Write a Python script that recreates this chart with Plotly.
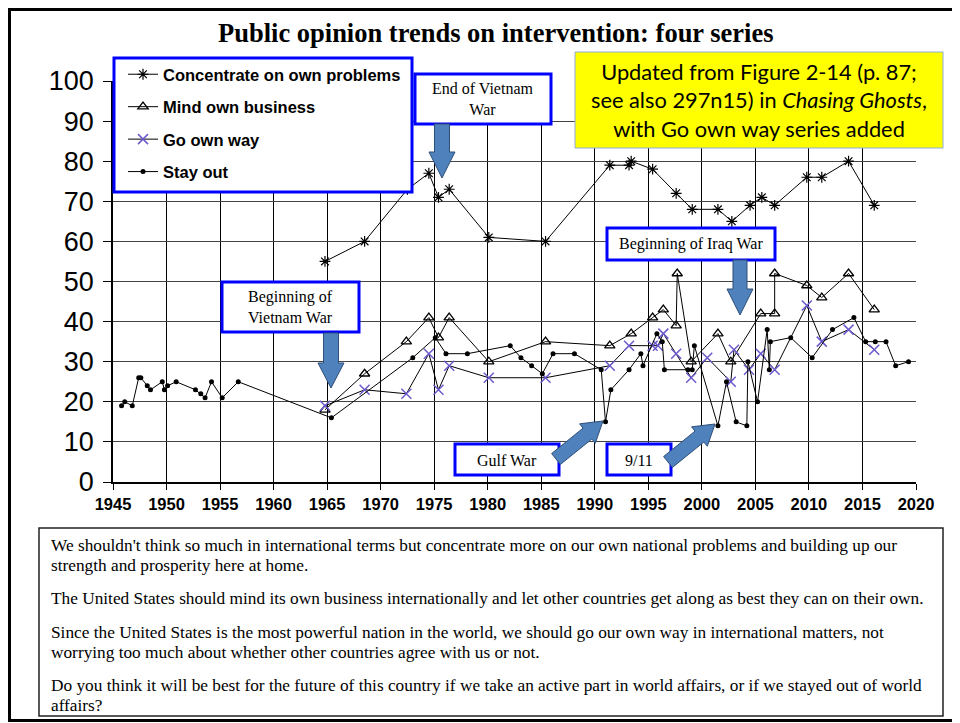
import math
import plotly.graph_objects as go

# ---------------- data ----------------
conc_years = [1964.8, 1968.5, 1972.5, 1974.5, 1975.4, 1976.4, 1980.1, 1985.4, 1991.4, 1993.2,
              1993.4, 1995.4, 1997.6, 1999.1, 2001.5, 2002.8, 2004.5, 2005.6, 2006.8, 2009.8,
              2011.2, 2013.7, 2016.1]
conc_vals = [55, 60, 73, 77, 71, 73, 61, 60, 79, 79,
             80, 78, 72, 68, 68, 65, 69, 71, 69, 76,
             76, 80, 69]

mind_years = [1964.8, 1968.5, 1972.4, 1974.5, 1975.4, 1976.4, 1980.1, 1985.4, 1991.4, 1993.4,
              1995.4, 1996.4, 1997.6, 1997.7, 1999.0, 2001.5, 2002.7, 2005.5, 2006.8, 2006.8,
              2009.8, 2011.2, 2013.7, 2016.1]
mind_vals = [18, 27, 35, 41, 36, 41, 30, 35, 34, 37,
             41, 43, 39, 52, 30, 37, 30, 42, 42, 52,
             49, 46, 52, 43]

go_years = [1964.8, 1968.5, 1972.4, 1974.5, 1975.4, 1976.4, 1980.1, 1985.4, 1991.4, 1993.2,
            1995.4, 1995.9, 1996.4, 1997.6, 1999.0, 2000.5, 2002.7, 2003.0, 2004.4, 2005.5,
            2006.8, 2009.8, 2011.2, 2013.7, 2016.1]
go_vals = [19, 23, 22, 32, 23, 29, 26, 26, 29, 34,
           34, 34, 37, 32, 26, 31, 25, 33, 28, 32,
           28, 44, 35, 38, 33]

stay_years = [1945.8, 1946.1, 1946.8, 1947.4, 1947.6, 1948.2, 1948.5, 1949.6, 1949.8, 1950.1,
              1950.9, 1952.7, 1953.2, 1953.6, 1954.2, 1955.2, 1956.7, 1965.4, 1973.0, 1975.1,
              1976.1, 1978.1, 1982.1, 1983.1, 1984.1, 1985.1, 1986.1, 1988.1, 1990.6, 1991.0,
              1991.5, 1993.2, 1994.3, 1994.5, 1995.8, 1996.3, 1996.5, 1998.7, 1999.1, 1999.3,
              2001.5, 2002.3, 2003.2, 2004.2, 2004.3, 2005.2, 2006.1, 2006.3, 2006.4, 2008.3,
              2010.3, 2012.2, 2014.2, 2015.3, 2016.2, 2017.2, 2018.1, 2019.3]
stay_vals = [19, 20, 19, 26, 26, 24, 23, 25, 23, 24,
             25, 23, 22, 21, 25, 21, 25, 16, 31, 36,
             32, 32, 34, 31, 29, 27, 32, 32, 28, 15,
             23, 28, 32, 29, 37, 35, 28, 28, 28, 34,
             14, 25, 15, 14, 30, 20, 38, 28, 35, 36,
             31, 38, 41, 35, 35, 35, 29, 30]

series_names = ["Concentrate on own problems", "Mind own business", "Go own way", "Stay out"]

x_ticks = list(range(1945, 2021, 5))
y_ticks = list(range(0, 101, 10))

question_lines = [
    "We shouldn't think so much in international terms but concentrate more on our own national problems and building up our",
    "strength and prosperity here at home.",
    "The United States should mind its own business internationally and let other countries get along as best they can on their own.",
    "Since the United States is the most powerful nation in the world, we should go our own way in international matters, not",
    "worrying too much about whether other countries agree with us or not.",
    "Do you think it will be best for the future of this country if we take an active part in world affairs, or if we stayed out of world",
    "affairs?",
]

# ---------------- layout helpers (page pixel coordinates) ----------------
OFF = 8  # page body margin
W, H = 960 - OFF, 723 - OFF  # figure size so page fits the window exactly
L, R, T, B = 113, 916, 81, 482  # plot area in page pixels


def px(x):
    return (x - L) / (R - L)


def py(y):
    return (B - y) / (B - T)


def rect(x0, y0, x1, y1, color, width, fill="rgba(0,0,0,0)"):
    return dict(type="rect", xref="paper", yref="paper", layer="above",
                x0=px(x0), x1=px(x1), y0=py(y1), y1=py(y0),
                line=dict(color=color, width=width), fillcolor=fill)


def polyline(pts, color, width):
    path = "M " + " L ".join(f"{px(a):.5f},{py(b):.5f}" for a, b in pts)
    return dict(type="path", xref="paper", yref="paper", layer="above", path=path,
                line=dict(color=color, width=width), fillcolor="rgba(0,0,0,0)")


def block_arrow(x0, y0, x1, y1, w, hw, hl):
    dx, dy = x1 - x0, y1 - y0
    ln = math.hypot(dx, dy)
    ux, uy = dx / ln, dy / ln
    nx, ny = -uy, ux
    bx, by = x1 - ux * hl, y1 - uy * hl
    pts = [
        (x0 + nx * w / 2, y0 + ny * w / 2),
        (bx + nx * w / 2, by + ny * w / 2),
        (bx + nx * hw / 2, by + ny * hw / 2),
        (x1, y1),
        (bx - nx * hw / 2, by - ny * hw / 2),
        (bx - nx * w / 2, by - ny * w / 2),
        (x0 - nx * w / 2, y0 - ny * w / 2),
    ]
    path = "M " + " L ".join(f"{px(a):.5f},{py(b):.5f}" for a, b in pts) + " Z"
    return dict(type="path", xref="paper", yref="paper", layer="above", path=path,
                fillcolor="#4F81BD", line=dict(color="#2E4F78", width=1))


fig = go.Figure()

line_style = dict(color="black", width=1)
fig.add_trace(go.Scatter(x=conc_years, y=conc_vals, mode="lines+markers", name=series_names[0],
                         legendgroup="a", line=line_style,
                         marker=dict(symbol="asterisk-open", size=9, color="black",
                                     line=dict(color="black", width=1.2))))
fig.add_trace(go.Scatter(x=mind_years, y=mind_vals, mode="lines+markers", name=series_names[1],
                         legendgroup="b", line=line_style,
                         marker=dict(symbol="triangle-up-open", size=9, color="black",
                                     line=dict(color="black", width=1.3))))
fig.add_trace(go.Scatter(x=go_years, y=go_vals, mode="lines+markers", name=series_names[2],
                         legendgroup="c", line=line_style,
                         marker=dict(symbol="x-thin-open", size=10, color="#6A5ACD",
                                     line=dict(color="#6A5ACD", width=1.5))))
fig.add_trace(go.Scatter(x=stay_years, y=stay_vals, mode="lines+markers", name=series_names[3],
                         legendgroup="d", line=line_style,
                         marker=dict(symbol="circle", size=5, color="black")))

shapes = []
# outer slide frame: top, left and bottom edges (right edge runs off the page)
shapes.append(polyline([(959, 9.5), (9.5, 9.5), (9.5, 720.5), (959, 720.5)], "black", 3))
# legend box
shapes.append(rect(114, 58, 412, 192, "#0000FF", 3, "white"))
# event label boxes
shapes.append(rect(415, 74, 551, 124, "#0000FF", 3, "white"))
shapes.append(rect(222, 282, 359, 332, "#0000FF", 3, "white"))
shapes.append(rect(607, 228, 775, 260, "#0000FF", 3, "white"))
shapes.append(rect(455, 444, 559, 475, "#0000FF", 3, "white"))
shapes.append(rect(607, 444, 671, 475, "#0000FF", 3, "white"))
# yellow note box
shapes.append(rect(575, 52, 943, 148, "#8FAADC", 1, "#FFFF00"))
# question text box
shapes.append(rect(39, 528, 943, 716, "#222222", 1.5, "white"))
# arrows
shapes.append(block_arrow(331, 333, 331, 388, 15, 26, 25))
shapes.append(block_arrow(442, 124, 442, 178, 15, 26, 26))
shapes.append(block_arrow(740, 260, 740, 315, 14, 26, 26))
shapes.append(block_arrow(556, 459, 603, 421, 14, 25, 20))
shapes.append(block_arrow(668, 462, 715, 424, 14, 25, 20))

annotations = []
serif = "Liberation Serif, Times New Roman, serif"


def label(text, x, y, size=16, family=serif, align="center", xanchor="center", color="black"):
    annotations.append(dict(text=text, x=px(x), y=py(y), xref="paper", yref="paper",
                            showarrow=False, xanchor=xanchor, yanchor="middle", align=align,
                            font=dict(family=family, size=size, color=color)))


label("<b>Public opinion trends on intervention: four series</b>", 496, 33, size=26.5)
label("End of Vietnam<br>War", 483, 99, size=16)
label("Beginning of<br>Vietnam War", 290, 307, size=16)
label("Beginning of Iraq War", 691, 244, size=16)
label("Gulf War", 507, 460, size=16)
label("9/11", 639, 460, size=16)
label("Updated from Figure 2-14 (p. 87;<br>see also 297n15) in <i>Chasing Ghosts</i>,<br>with Go own way series added",
      759, 100, size=21.8, family="Lato, Open Sans, sans-serif")

line_y = [545, 565, 598, 632, 652, 686, 705]
for txt, yy in zip(question_lines, line_y):
    label(txt, 49, yy, size=17.3, align="left", xanchor="left")

fig.update_layout(
    width=W, height=H,
    margin=dict(l=L - OFF, r=W - (R - OFF), t=T - OFF, b=H - (B - OFF)),
    paper_bgcolor="white", plot_bgcolor="white",
    showlegend=True,
    legend=dict(x=px(123), y=py(57), xanchor="left", yanchor="top",
                bgcolor="rgba(0,0,0,0)", borderwidth=0,
                font=dict(family="Liberation Sans, Arial, sans-serif", size=16.5, color="black",
                          weight="bold"),
                traceorder="grouped", tracegroupgap=8, itemwidth=30),
    shapes=shapes,
    annotations=annotations,
)

fig.update_xaxes(range=[1945, 2020], tickvals=x_ticks, ticktext=[str(v) for v in x_ticks],
                 showgrid=True, gridcolor="black", gridwidth=1,
                 showline=True, linecolor="black", linewidth=1.5,
                 ticks="outside", ticklen=6, tickcolor="black",
                 tickfont=dict(family="Liberation Sans, Arial, sans-serif", size=16.5,
                               color="black", weight="bold"),
                 zeroline=False, mirror=False)
fig.update_yaxes(range=[0, 100], tickvals=y_ticks,
                 showgrid=True, gridcolor="#444444", gridwidth=1.3,
                 showline=True, linecolor="black", linewidth=1.5,
                 ticks="outside", ticklen=8, tickcolor="black",
                 ticklabelstandoff=4,
                 tickfont=dict(family="Liberation Sans, Arial, sans-serif", size=27, color="black"),
                 zeroline=False)

fig.write_html("out.html")
